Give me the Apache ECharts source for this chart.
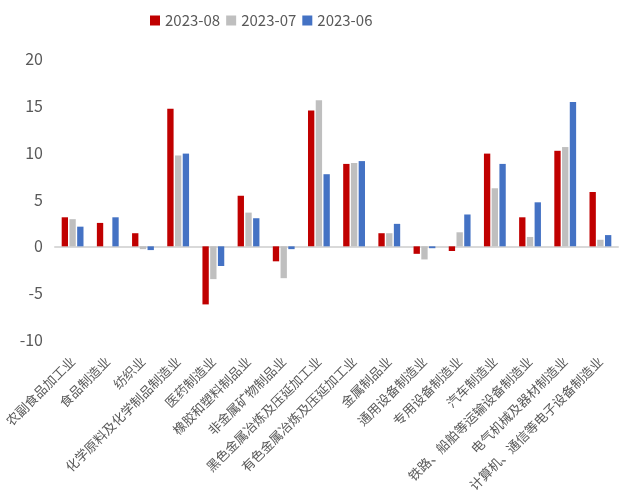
<!DOCTYPE html>
<html>
<head>
<meta charset="utf-8">
<script src="https://cdn.jsdelivr.net/npm/echarts@6/dist/echarts.min.js"></script>
<style>
  html, body { margin: 0; padding: 0; background: #fff; }
  #chart { width: 636px; height: 492px; }
</style>
</head>
<body>
<div id="chart"></div>
<script>
const categories = [
  '农副食品加工业', '食品制造业', '纺织业', '化学原料及化学制品制造业',
  '医药制造业', '橡胶和塑料制品业', '非金属矿物制品业', '黑色金属冶炼及压延加工业',
  '有色金属冶炼及压延加工业', '金属制品业', '通用设备制造业', '专用设备制造业',
  '汽车制造业', '铁路、船舶等运输设备制造业', '电气机械及器材制造业', '计算机、通信等电子设备制造业'
]
const seriesNames = ['2023-08', '2023-07', '2023-06']
const aug = [3.1, 2.5, 1.4, 14.7, -6.2, 5.4, -1.6, 14.5, 8.8, 1.4, -0.8, -0.5, 9.9, 3.1, 10.2, 5.8]
const jul = [2.9, 0, -0.3, 9.7, -3.5, 3.6, -3.4, 15.6, 8.9, 1.4, -1.4, 1.5, 6.2, 1.0, 10.6, 0.7]
const jun = [2.1, 3.1, -0.4, 9.9, -2.1, 3.0, -0.3, 7.7, 9.1, 2.4, -0.2, 3.4, 8.8, 4.7, 15.4, 1.2]
const colors = ['#C00000', '#BFBFBF', '#4472C4']
const yTicks = { min: -10, max: 20, interval: 5 }

const font = 'Noto Sans CJK SC'
const myChart = echarts.init(document.getElementById('chart'))

const option = {
  animation: false,
  color: colors,
  textStyle: { fontFamily: font },
  legend: {
    top: 8,
    left: 145,
    itemWidth: 10,
    itemHeight: 10,
    itemGap: 6,
    icon: 'rect',
    textStyle: { fontSize: 15, color: '#595959', fontFamily: font }
  },
  grid: { left: 55, right: 18, top: 59, bottom: 152, containLabel: false, outerBoundsMode: 'none' },
  xAxis: [
    {
      // labels along the bottom
      type: 'category',
      data: categories,
      position: 'bottom',
      axisLine: { show: false, onZero: false },
      axisTick: { show: false },
      axisLabel: {
        rotate: 45,
        interval: 0,
        margin: 19,
        fontSize: 13,
        color: '#595959',
        fontFamily: font
      }
    },
    {
      // the line through zero
      type: 'category',
      data: categories,
      axisLine: { show: true, onZero: true, lineStyle: { color: '#D9D9D9', width: 2 } },
      axisTick: { show: false },
      axisLabel: { show: false }
    }
  ],
  yAxis: {
    type: 'value',
    min: yTicks.min,
    max: yTicks.max,
    interval: yTicks.interval,
    axisLine: { show: false },
    axisTick: { show: false },
    splitLine: { show: false },
    axisLabel: { fontSize: 16, color: '#595959', margin: 12, fontFamily: font }
  },
  series: [aug, jul, jun].map((d, i) => ({
    name: seriesNames[i],
    type: 'bar',
    xAxisIndex: 0,
    data: d,
    barGap: '22%',
    barCategoryGap: '38%'
  }))
}

myChart.setOption(option)
</script>
</body>
</html>
